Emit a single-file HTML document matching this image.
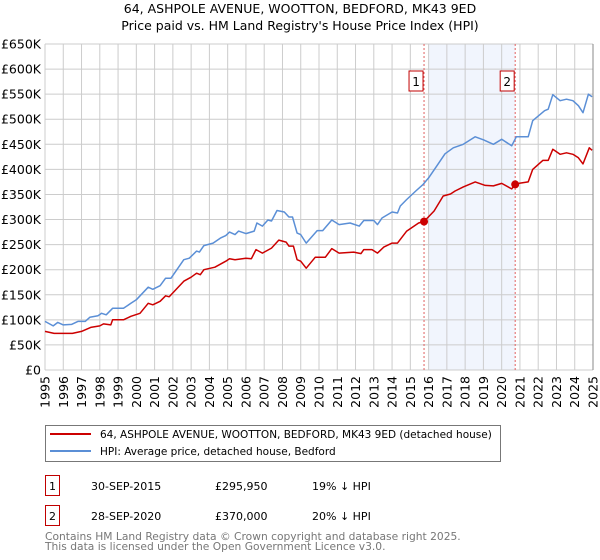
<!DOCTYPE html>
<html><head><meta charset="utf-8"><style>
body{margin:0;background:#fff;font-family:"Liberation Sans","DejaVu Sans",sans-serif;}
#wrap{position:relative;width:600px;height:560px;overflow:hidden;}
svg text{font-family:"DejaVu Sans","Liberation Sans",sans-serif;}
</style></head><body>
<div id="wrap">
<svg id="chart" width="600" height="560"></svg>
</div>
<script>
const yTicks=[0,50,100,150,200,250,300,350,400,450,500,550,600,650];
const yTickLabels=["£0","£50K","£100K","£150K","£200K","£250K","£300K","£350K","£400K","£450K","£500K","£550K","£600K","£650K"];
const xYears=[1995,1996,1997,1998,1999,2000,2001,2002,2003,2004,2005,2006,2007,2008,2009,2010,2011,2012,2013,2014,2015,2016,2017,2018,2019,2020,2021,2022,2023,2024,2025];
const hpiT=[1995.0,1995.45,1995.7,1996.0,1996.45,1996.8,1997.2,1997.45,1997.9,1998.1,1998.35,1998.7,1999.3,1999.7,2000.0,2000.65,2000.9,2001.3,2001.6,2001.9,2002.6,2002.9,2003.3,2003.45,2003.7,2004.2,2004.6,2004.9,2005.1,2005.4,2005.6,2006.0,2006.45,2006.6,2006.9,2007.2,2007.4,2007.7,2008.1,2008.35,2008.55,2008.8,2009.0,2009.3,2009.9,2010.2,2010.7,2011.1,2011.7,2012.2,2012.45,2013.0,2013.2,2013.45,2014.0,2014.3,2014.45,2014.8,2015.3,2015.7,2016.0,2016.45,2016.9,2017.35,2017.9,2018.55,2019.0,2019.55,2020.0,2020.55,2020.8,2021.45,2021.7,2022.35,2022.55,2022.8,2023.2,2023.55,2023.9,2024.2,2024.45,2024.75,2024.95];
const hpiV=[97,88,95,90,91,97,97,105,108,113,110,123,123,133,140,165,161,168,183,183,220,223,237,235,248,253,263,268,275,270,277,272,277,293,287,299,297,318,315,305,305,273,270,253,278,278,299,290,293,287,298,298,290,303,315,313,327,340,357,370,383,407,431,443,450,465,459,450,460,447,465,465,497,517,520,549,537,540,537,527,513,550,545];
const ppT=[1995.0,1995.5,1996.0,1996.5,1997.0,1997.5,1998.0,1998.2,1998.6,1998.7,1999.3,1999.7,2000.2,2000.65,2000.9,2001.3,2001.6,2001.8,2002.6,2003.0,2003.3,2003.5,2003.7,2004.3,2004.9,2005.1,2005.4,2006.0,2006.3,2006.55,2006.9,2007.4,2007.8,2008.2,2008.35,2008.6,2008.8,2009.0,2009.3,2009.8,2010.35,2010.7,2011.1,2011.9,2012.3,2012.45,2012.9,2013.2,2013.55,2014.0,2014.3,2014.8,2015.45,2015.75,2016.3,2016.8,2017.2,2017.45,2017.9,2018.55,2019.1,2019.55,2020.0,2020.55,2020.75,2021.45,2021.7,2022.25,2022.55,2022.8,2023.2,2023.55,2023.9,2024.2,2024.45,2024.8,2024.95];
const ppV=[77,73,73,73,77,85,88,92,90,100,100,107,113,133,130,137,148,146,177,185,193,190,200,205,217,222,220,223,222,240,233,243,259,255,247,247,220,217,203,225,225,242,233,235,232,240,240,233,245,253,253,277,293,296,317,347,351,357,365,375,368,367,372,361,371,375,400,418,418,440,430,433,430,423,411,443,438];
const saleT=[2015.75,2020.74];
const saleV=[295.95,370];
const saleLabels=["1","2"];

const NS="http://www.w3.org/2000/svg";
const svg=document.getElementById('chart');
const X0=45,X1=593,Y0=370,Y1=44;
const xs=t=>X0+(t-1995)/30*(X1-X0);
const ys=v=>Y0-(v/650)*(Y0-Y1);
function mk(tag,attrs,parent){const e=document.createElementNS(NS,tag);for(const k in attrs)e.setAttribute(k,attrs[k]);(parent||svg).appendChild(e);return e;}

let t=mk('text',{x:300,y:13,'text-anchor':'middle','font-size':12.5,fill:'#000'});t.textContent="64, ASHPOLE AVENUE, WOOTTON, BEDFORD, MK43 9ED";


t=mk('text',{x:300,y:30,'text-anchor':'middle','font-size':12.5,fill:'#000'});t.textContent="Price paid vs. HM Land Registry's House Price Index (HPI)";



let sh=mk('rect',{x:xs(2016.0),y:Y1,width:xs(saleT[1])-xs(2016.0),height:Y0-Y1,fill:'#eef3fc',opacity:0.8});



yTicks.forEach((v,i)=>{
 const l=mk('line',{x1:X0,x2:X1,y1:ys(v),y2:ys(v),stroke:'#cccccc','stroke-width':1});
 
 
 const tx=mk('text',{x:41,y:ys(v)+4.5,'text-anchor':'end','font-size':12.5,fill:'#000'});tx.textContent=yTickLabels[i];
 
 
});
xYears.forEach(yr=>{
 const l=mk('line',{x1:xs(yr),x2:xs(yr),y1:Y1,y2:Y0,stroke:'#cccccc','stroke-width':1});
 
 
 const tx=mk('text',{x:0,y:0,'text-anchor':'end','font-size':12.5,fill:'#000',transform:`translate(${xs(yr)+4.5},${Y0+6}) rotate(-90)`});tx.textContent=yr;
 
 
});
let ax=mk('line',{x1:X1,x2:X1,y1:Y1,y2:Y0,stroke:'#888','stroke-width':1});



saleT.forEach((s,i)=>{
 const l=mk('line',{x1:xs(s),x2:xs(s),y1:Y1,y2:Y0,stroke:'#e06060','stroke-width':1,'stroke-dasharray':'2,2'});
 
 
 const g=mk('g',{});
 
 
 mk('rect',{x:xs(s)-15,y:71,width:14,height:20,fill:'#fff',stroke:'#c00000','stroke-width':1},g);
 const tx=mk('text',{x:xs(s)-8,y:86,'text-anchor':'middle','font-size':12,fill:'#000'},g);tx.textContent=saleLabels[i];
});

function path(T,V,color,name){
 let d=T.map((tt,i)=>(i?'L':'M')+xs(tt).toFixed(1)+','+ys(V[i]).toFixed(1)).join(' ');
 const p=mk('path',{d:d,fill:'none',stroke:color,'stroke-width':1.5,'stroke-linejoin':'round'});
 
 
}
path(hpiT,hpiV,'#5b8fd6','hpi-line');
path(ppT,ppV,'#cc0000','price-paid-line');
saleT.forEach((s,i)=>{
 const c=mk('circle',{cx:xs(s),cy:ys(saleV[i]),r:4,fill:'#cc0000'});
 
 
});

const lg=mk('g',{});


mk('rect',{x:45.5,y:425.5,width:455,height:36,fill:'#fff',stroke:'#777','stroke-width':1},lg);
mk('line',{x1:50,x2:91,y1:434,y2:434,stroke:'#cc0000','stroke-width':2},lg);
mk('line',{x1:50,x2:91,y1:451,y2:451,stroke:'#5b8fd6','stroke-width':2},lg);
t=mk('text',{x:100,y:438,'font-size':10.5,fill:'#000'},lg);t.textContent="64, ASHPOLE AVENUE, WOOTTON, BEDFORD, MK43 9ED (detached house)";


t=mk('text',{x:100,y:455,'font-size':10.5,fill:'#000'},lg);t.textContent="HPI: Average price, detached house, Bedford";



const rows=[["1","30-SEP-2015","£295,950","19% ↓ HPI",475],["2","28-SEP-2020","£370,000","20% ↓ HPI",505]];
rows.forEach(r=>{
 const g=mk('g',{});
 
 
 mk('rect',{x:45.5,y:r[4]+0.5,width:14,height:20,fill:'#fff',stroke:'#c00000','stroke-width':1},g);
 let a=mk('text',{x:52.5,y:r[4]+15,'text-anchor':'middle','font-size':11,fill:'#000'},g);a.textContent=r[0];
 a=mk('text',{x:91,y:r[4]+15,'font-size':11,fill:'#000'},g);a.textContent=r[1];
 a=mk('text',{x:215,y:r[4]+15,'font-size':11,fill:'#000'},g);a.textContent=r[2];
 a=mk('text',{x:312,y:r[4]+15,'font-size':11,fill:'#000'},g);a.textContent=r[3];
});
t=mk('text',{x:45,y:540,'font-size':10.7,fill:'#777'});t.textContent="Contains HM Land Registry data © Crown copyright and database right 2025.";


t=mk('text',{x:45,y:550,'font-size':10.7,fill:'#777'});t.textContent="This data is licensed under the Open Government Licence v3.0.";


</script>
</body></html>
